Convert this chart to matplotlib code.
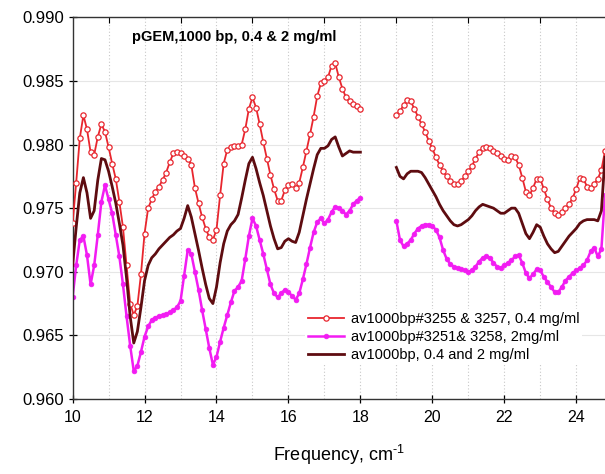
import numpy as np
import matplotlib
matplotlib.use("Agg")
import matplotlib.pyplot as plt
from matplotlib.ticker import MultipleLocator, FixedLocator, FormatStrFormatter

# Frequency grids (cm^-1) for the two measured bands
freq_low = np.round(np.arange(10.0, 18.001, 0.1), 1)
freq_high = np.round(np.arange(19.0, 24.801, 0.1), 1)

# 0.4 mg/ml average
conc04_low = [
    0.9738, 0.9770, 0.9805, 0.9823, 0.9812, 0.9794, 0.9792, 0.9806, 0.9816, 0.9810,
    0.9798, 0.9785, 0.9773, 0.9755, 0.9735, 0.9705, 0.9675, 0.9666, 0.9673, 0.9698,
    0.9730, 0.9750, 0.9757, 0.9763, 0.9767, 0.9772, 0.9778, 0.9786, 0.9793, 0.9794,
    0.9793, 0.9791, 0.9789, 0.9784, 0.9766, 0.9754, 0.9743, 0.9734, 0.9727, 0.9725,
    0.9733, 0.9760, 0.9785, 0.9796, 0.9798, 0.9799, 0.9799, 0.9800, 0.9812, 0.9828,
    0.9837, 0.9829, 0.9816, 0.9802, 0.9789, 0.9776, 0.9765, 0.9756, 0.9756, 0.9764,
    0.9768, 0.9769, 0.9766, 0.9770, 0.9782, 0.9795, 0.9808, 0.9822, 0.9838, 0.9848,
    0.9850, 0.9853, 0.9862, 0.9864, 0.9853, 0.9844, 0.9837, 0.9834, 0.9832, 0.9830,
    0.9828,
]
conc04_high = [
    0.9823, 0.9826, 0.9831, 0.9835, 0.9834, 0.9828, 0.9822, 0.9816, 0.9810, 0.9803,
    0.9797, 0.9790, 0.9784, 0.9779, 0.9775, 0.9771, 0.9769, 0.9769, 0.9771, 0.9775,
    0.9779, 0.9783, 0.9789, 0.9794, 0.9797, 0.9798, 0.9797, 0.9795, 0.9793, 0.9791,
    0.9789, 0.9788, 0.9791, 0.9790, 0.9784, 0.9774, 0.9763, 0.9760, 0.9766, 0.9773,
    0.9773, 0.9765, 0.9757, 0.9750, 0.9746, 0.9745, 0.9747, 0.9750, 0.9753, 0.9758,
    0.9765, 0.9774, 0.9773, 0.9767, 0.9766, 0.9769, 0.9773, 0.9780, 0.9795,
]

# 2 mg/ml average
conc2_low = [
    0.9680, 0.9705, 0.9725, 0.9728, 0.9713, 0.9690, 0.9705, 0.9729, 0.9755, 0.9768,
    0.9757, 0.9746, 0.9729, 0.9712, 0.9690, 0.9665, 0.9642, 0.9622, 0.9626, 0.9637,
    0.9649, 0.9657, 0.9662, 0.9664, 0.9665, 0.9666, 0.9667, 0.9668, 0.9670, 0.9672,
    0.9677, 0.9697, 0.9717, 0.9714, 0.9700, 0.9686, 0.9670, 0.9655, 0.9640, 0.9627,
    0.9633, 0.9645, 0.9656, 0.9666, 0.9676, 0.9685, 0.9688, 0.9693, 0.9710, 0.9728,
    0.9742, 0.9736, 0.9725, 0.9714, 0.9702, 0.9690, 0.9683, 0.9680, 0.9683, 0.9686,
    0.9684, 0.9681, 0.9678, 0.9683, 0.9694, 0.9706, 0.9719, 0.9731, 0.9739, 0.9742,
    0.9738, 0.9741, 0.9747, 0.9751, 0.9750, 0.9748, 0.9745, 0.9748, 0.9753, 0.9756,
    0.9758,
]
conc2_high = [
    0.9740, 0.9725, 0.9720, 0.9722, 0.9725, 0.9730, 0.9734, 0.9736, 0.9737, 0.9737,
    0.9736, 0.9733, 0.9727, 0.9717, 0.9710, 0.9706, 0.9704, 0.9703, 0.9702, 0.9701,
    0.9700, 0.9701, 0.9704, 0.9708, 0.9711, 0.9712, 0.9711, 0.9707, 0.9704, 0.9703,
    0.9705, 0.9707, 0.9709, 0.9712, 0.9713, 0.9707, 0.9699, 0.9695, 0.9698, 0.9702,
    0.9701, 0.9696, 0.9692, 0.9688, 0.9684, 0.9684, 0.9688, 0.9693, 0.9696, 0.9699,
    0.9701, 0.9703, 0.9705, 0.9709, 0.9716, 0.9719, 0.9712, 0.9718, 0.9760,
]

# Combined average of both concentrations
combined_low = [
    0.9705, 0.9735, 0.9762, 0.9774, 0.9762, 0.9742, 0.9748, 0.9772, 0.9789, 0.9788,
    0.9779, 0.9767, 0.9754, 0.9738, 0.9721, 0.9695, 0.9665, 0.9644, 0.9653, 0.9672,
    0.9693, 0.9705, 0.9711, 0.9714, 0.9718, 0.9721, 0.9724, 0.9727, 0.9729, 0.9732,
    0.9734, 0.9742, 0.9752, 0.9743, 0.9730, 0.9717, 0.9703, 0.9690, 0.9679, 0.9675,
    0.9688, 0.9707, 0.9722, 0.9732, 0.9737, 0.9740, 0.9745, 0.9758, 0.9772, 0.9785,
    0.9790, 0.9781, 0.9770, 0.9760, 0.9748, 0.9736, 0.9726, 0.9718, 0.9719, 0.9724,
    0.9726, 0.9724, 0.9723, 0.9731, 0.9744, 0.9757, 0.9769, 0.9781, 0.9792, 0.9797,
    0.9797, 0.9799, 0.9804, 0.9806, 0.9798, 0.9791, 0.9793, 0.9795, 0.9794, 0.9794,
    0.9794,
]
combined_high = [
    0.9782, 0.9775, 0.9773, 0.9777, 0.9779, 0.9779, 0.9779, 0.9778, 0.9774, 0.9769,
    0.9764, 0.9759, 0.9753, 0.9748, 0.9744, 0.9740, 0.9737, 0.9736, 0.9737, 0.9739,
    0.9741, 0.9744, 0.9748, 0.9751, 0.9753, 0.9752, 0.9751, 0.9750, 0.9748, 0.9746,
    0.9746, 0.9748, 0.9750, 0.9750, 0.9746, 0.9738, 0.9730, 0.9726, 0.9731, 0.9737,
    0.9735, 0.9728, 0.9722, 0.9718, 0.9715, 0.9716, 0.9720, 0.9724, 0.9728, 0.9731,
    0.9734, 0.9738, 0.9740, 0.9741, 0.9741, 0.9741, 0.9740, 0.9748, 0.9790,
]

labels = [
    "av1000bp#3255 & 3257, 0.4 mg/ml",
    "av1000bp#3251& 3258, 2mg/ml",
    "av1000bp, 0.4 and 2 mg/ml",
]
title_text = "pGEM,1000 bp, 0.4 & 2 mg/ml"


def joined(low, high):
    """Join the two bands with a NaN break so the gap stays empty."""
    x = np.concatenate([freq_low, [np.nan], freq_high])
    y = np.concatenate([low, [np.nan], high])
    return x, y


plt.rcParams["font.family"] = ["Liberation Sans", "DejaVu Sans"]
plt.rcParams["mathtext.fontset"] = "custom"
plt.rcParams["mathtext.rm"] = "Liberation Sans"

fig = plt.figure(figsize=(6.05, 4.74), dpi=100)
ax = fig.add_axes([72.6 / 605, 1 - 399 / 474, 532.4 / 605, 381.7 / 474])

red = "#e8262e"
magenta = "#f21cf2"
maroon = "#5e0c10"

x, y = joined(conc04_low, conc04_high)
ax.plot(x, y, color=red, lw=1.3, marker="o", ms=3.8, mfc="white",
        mec=red, mew=0.9, label=labels[0], zorder=3)
x, y = joined(conc2_low, conc2_high)
ax.plot(x, y, color=magenta, lw=1.8, marker="o", ms=3.4, mfc=magenta,
        mec=magenta, mew=0.5, label=labels[1], zorder=2)
x, y = joined(combined_low, combined_high)
ax.plot(x, y, color=maroon, lw=2.0, label=labels[2], zorder=4)

ax.set_xlim(10, 24.8)
ax.set_ylim(0.960, 0.990)

ax.xaxis.set_major_locator(MultipleLocator(2))
ax.xaxis.set_minor_locator(FixedLocator(np.arange(11, 25, 2)))
ax.yaxis.set_major_locator(MultipleLocator(0.005))
ax.yaxis.set_major_formatter(FormatStrFormatter("%.3f"))

ax.tick_params(which="major", axis="x", bottom=True, top=False,
               direction="inout", length=6, width=0.9, labelsize=11.5,
               pad=5)
ax.tick_params(which="minor", axis="x", bottom=False, top=True,
               direction="in", length=4, width=0.8)
ax.tick_params(axis="y", left=True, right=False, direction="inout",
               length=6, width=0.9, labelsize=12, pad=3)

# Dotted guides at every integer frequency, faint lines at each y tick
for f in np.arange(11, 25, 1):
    ax.axvline(f, color="#c8c8c8", lw=0.8, ls=(0, (1, 2)), zorder=0)
ax.grid(axis="y", color="#e6e6e6", lw=0.8, ls="-", zorder=0)

ax.spines["right"].set_visible(False)
for s in ("left", "bottom", "top"):
    ax.spines[s].set_linewidth(1.0)
    ax.spines[s].set_color("#333333")

ax.set_xlabel(r"Frequency, cm$^{\text{-1}}$", fontsize=13, labelpad=13)

ax.text(0.1116, 0.948, title_text, transform=ax.transAxes, fontsize=10.5,
        fontweight="bold", ha="left", va="center")

leg = ax.legend(loc="upper left", bbox_to_anchor=(0.436, 0.236),
                frameon=True, fontsize=10.5, handlelength=2.5,
                handletextpad=0.45, labelspacing=0.27, borderpad=0.2,
                borderaxespad=0.0)
leg.get_frame().set_edgecolor("none")
leg.get_frame().set_facecolor("white")
leg.get_frame().set_alpha(1.0)

fig.savefig("out.png", dpi=100)
